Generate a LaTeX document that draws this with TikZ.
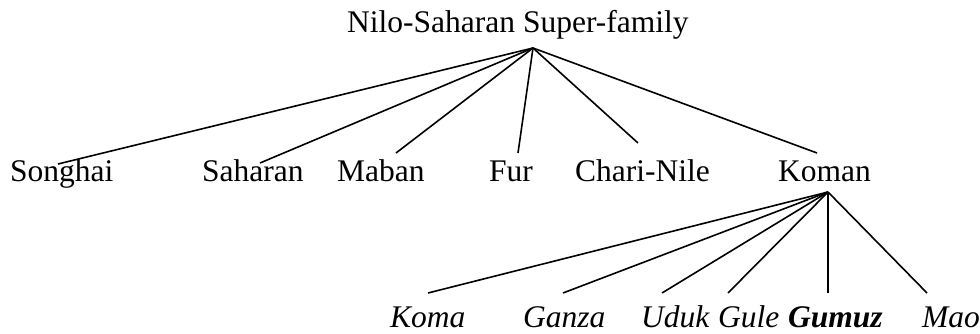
\documentclass[tikz,border=0pt]{standalone}
\usepackage{fontspec}
\setmainfont{Liberation Serif}
\begin{document}
\begin{tikzpicture}[x=1pt,y=-1pt,
  lbl/.style={inner sep=0pt,anchor=base west,font=\fontsize{31.5}{36}\selectfont},
  ilbl/.style={lbl,font=\fontsize{31.5}{36}\selectfont\itshape},
  branch/.style={line width=1.6pt}]
\useasboundingbox (0,0) rectangle (980,334);
% labels
\node[lbl] (root) at (347,33) {Nilo-Saharan Super-family};
\node[lbl] (songhai) at (10,182) {Songhai};
\node[lbl] (saharan) at (202,182) {Saharan};
\node[lbl] (maban) at (337,182) {Maban};
\node[lbl] (fur) at (489,182) {Fur};
\node[lbl] (chari) at (575,182) {Chari-Nile};
\node[lbl] (koman) at (778,182) {Koman};
\node[ilbl] (koma) at (390,327) {Koma};
\node[ilbl] (ganza) at (523,327) {Ganza};
\node[ilbl] (uduk) at (641,327) {Uduk};
\node[ilbl] (gule) at (718,327) {Gule};
\node[ilbl,font=\fontsize{31.5}{36}\selectfont\bfseries\itshape] (gumuz) at (788,327) {Gumuz};
\node[ilbl] (mao) at (922,327) {Mao};
% connector ends
\coordinate (rootP) at (533,48);
\coordinate (songhaiP) at (58,164);
\coordinate (saharanP) at (260,163);
\coordinate (mabanP) at (396,153);
\coordinate (furP) at (518,153);
\coordinate (chariP) at (638,143);
\coordinate (komanT) at (817,153);
\coordinate (komanP) at (828,192);
\coordinate (komaP) at (428,293);
\coordinate (ganzaP) at (563,293);
\coordinate (udukP) at (662,293);
\coordinate (guleP) at (728,293);
\coordinate (gumuzP) at (828,293);
\coordinate (maoP) at (927,293);
% connectors
\foreach \c in {songhaiP,saharanP,mabanP,furP,chariP,komanT}
  \draw[branch] (rootP) -- (\c);
\foreach \c in {komaP,ganzaP,udukP,guleP,gumuzP,maoP}
  \draw[branch] (komanP) -- (\c);
\end{tikzpicture}
\end{document}
